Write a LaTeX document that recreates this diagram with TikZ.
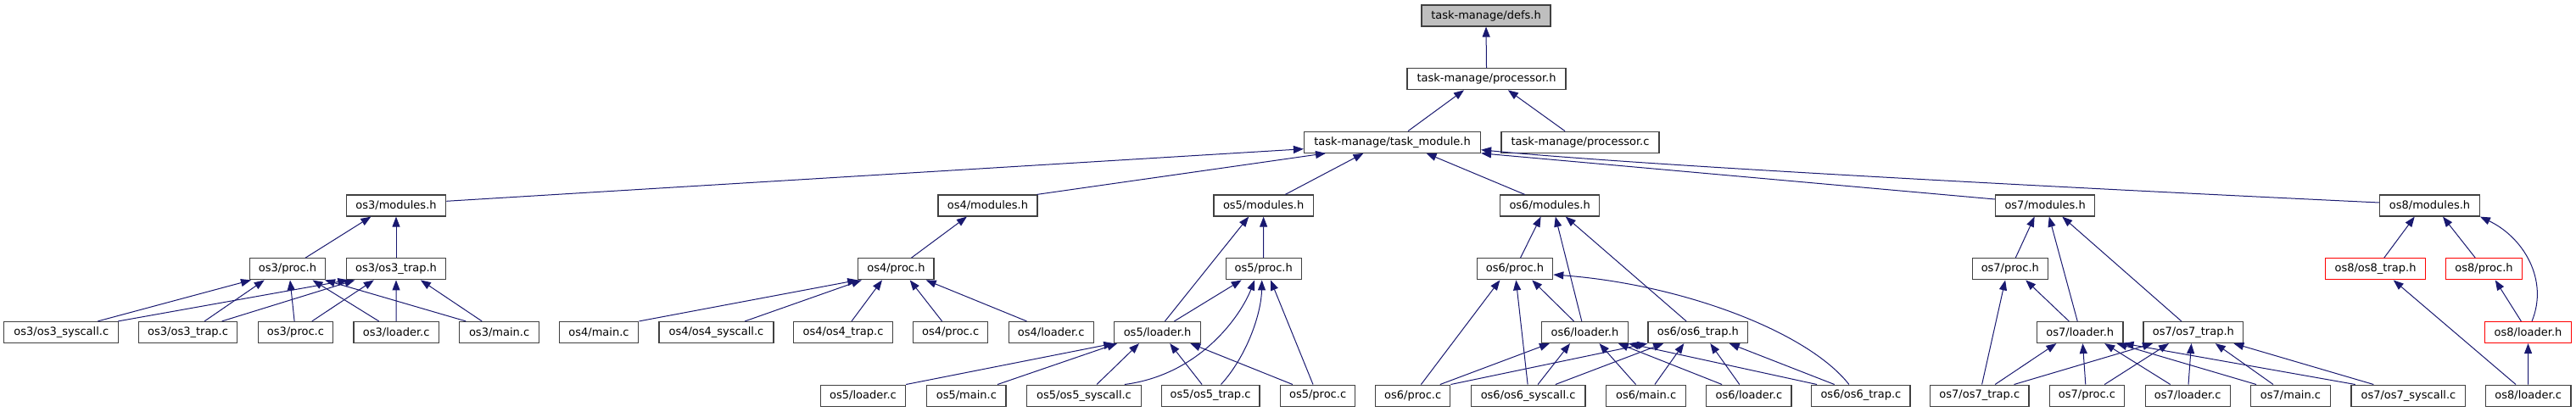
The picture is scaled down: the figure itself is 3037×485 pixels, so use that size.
\documentclass[tikz,border=0pt]{standalone}
\usepackage{fontspec}
\newfontfamily\dejavu{DejaVu Sans}
\usetikzlibrary{arrows.meta}
\definecolor{edgeblue}{HTML}{191970}
\definecolor{boxgray}{HTML}{404040}
\definecolor{rootfill}{HTML}{BFBFBF}
\definecolor{truncred}{HTML}{FF0000}
\newcommand\depedge[4]{\draw[inc] ([xshift=#2pt]#1.south) -- ([xshift=#4pt]#3.north);}
\begin{document}
\begin{tikzpicture}[x=1pt,y=-1pt,
  box/.style={draw=boxgray, line width=1.2pt, fill=white, inner sep=0pt, minimum height=25pt, font={\dejavu\fontsize{13}{15}\selectfont}, text=black},
  trunc/.style={box, draw=truncred},
  root/.style={box, fill=rootfill},
  inc/.style={draw=edgeblue, line width=1pt, {Triangle[length=12pt,width=9pt]}-}]
\useasboundingbox (0,0) rectangle (3037,485);
% row 0-2
\node[root, minimum width=152pt] (defs) at (1752,18.5) {task-manage/defs.h};
\node[box, minimum width=187pt] (proch) at (1752.5,93.2) {task-manage/processor.h};
\node[box, minimum width=208pt] (tm) at (1641.5,167.7) {task-manage/task\_module.h};
\node[box, minimum width=186pt] (pc) at (1863,167.7) {task-manage/processor.c};
% row 3
\node[box, minimum width=117.5pt] (m3) at (467,242.5) {os3/modules.h};
\node[box, minimum width=117pt] (m4) at (1164.4,242.5) {os4/modules.h};
\node[box, minimum width=117.4pt] (m5) at (1489.6,242.5) {os5/modules.h};
\node[box, minimum width=117.4pt] (m6) at (1827.1,242.5) {os6/modules.h};
\node[box, minimum width=117.4pt] (m7) at (2411.1,242.5) {os7/modules.h};
\node[box, minimum width=117.6pt] (m8) at (2864.5,242.5) {os8/modules.h};
% row 4
\node[box, minimum width=89pt] (p3) at (339,317.3) {os3/proc.h};
\node[box, minimum width=117.5pt] (t3) at (467,317.3) {os3/os3\_trap.h};
\node[box, minimum width=89.2pt] (p4) at (1056.4,317.3) {os4/proc.h};
\node[box, minimum width=89pt] (p5) at (1489.7,317.3) {os5/proc.h};
\node[box, minimum width=89.6pt] (p6) at (1785.9,317.3) {os6/proc.h};
\node[box, minimum width=89.2pt] (p7) at (2369.8,317.3) {os7/proc.h};
\node[trunc, minimum width=117.6pt] (t8) at (2800.5,317.3) {os8/os8\_trap.h};
\node[trunc, minimum width=89.6pt] (p8) at (2928.5,317.3) {os8/proc.h};
% row 5
\node[box, minimum width=135pt] (s3) at (72.3,392) {os3/os3\_syscall.c};
\node[box, minimum width=116pt] (tc3) at (221.6,392) {os3/os3\_trap.c};
\node[box, minimum width=88pt] (pc3) at (348.4,392) {os3/proc.c};
\node[box, minimum width=100.3pt] (lc3) at (467.2,392) {os3/loader.c};
\node[box, minimum width=93.7pt] (mc3) at (588.6,392) {os3/main.c};
\node[box, minimum width=93.7pt] (mc4) at (706,392) {os4/main.c};
\node[box, minimum width=135pt] (s4) at (844.4,392) {os4/os4\_syscall.c};
\node[box, minimum width=116.7pt] (tc4) at (994,392) {os4/os4\_trap.c};
\node[box, minimum width=88.2pt] (pc4) at (1120.6,392) {os4/proc.c};
\node[box, minimum width=100.2pt] (lc4) at (1239.2,392) {os4/loader.c};
\node[box, minimum width=101.6pt] (l5) at (1364.6,392) {os5/loader.h};
\node[box, minimum width=101.6pt] (l6) at (1868.4,392) {os6/loader.h};
\node[box, minimum width=117.7pt] (t6) at (2001.9,392) {os6/os6\_trap.h};
\node[box, minimum width=101.2pt] (l7) at (2452.3,392) {os7/loader.h};
\node[box, minimum width=117.7pt] (t7) at (2585.9,392) {os7/os7\_trap.h};
\node[trunc, minimum width=101.6pt] (l8) at (2980.5,392) {os8/loader.h};
% row 6
\node[box, minimum width=100.2pt] (lc5) at (1017.5,466.6) {os5/loader.c};
\node[box, minimum width=93.3pt] (mc5) at (1139.4,466.6) {os5/main.c};
\node[box, minimum width=134.3pt] (s5) at (1278,466.6) {os5/os5\_syscall.c};
\node[box, minimum width=115.8pt] (tc5) at (1427.1,466.6) {os5/os5\_trap.c};
\node[box, minimum width=87.8pt] (pc5) at (1553.6,466.6) {os5/proc.c};
\node[box, minimum width=88.2pt] (pc6) at (1665.7,466.6) {os6/proc.c};
\node[box, minimum width=134.6pt] (s6) at (1801.6,466.6) {os6/os6\_syscall.c};
\node[box, minimum width=93.7pt] (mc6) at (1940.6,466.6) {os6/main.c};
\node[box, minimum width=100.2pt] (lc6) at (2061.9,466.6) {os6/loader.c};
\node[box, minimum width=116.1pt] (tc6) at (2193.9,466.6) {os6/os6\_trap.c};
\node[box, minimum width=116.4pt] (tc7) at (2333.8,466.6) {os7/os7\_trap.c};
\node[box, minimum width=87.8pt] (pc7) at (2460.4,466.6) {os7/proc.c};
\node[box, minimum width=100.2pt] (lc7) at (2579.2,466.6) {os7/loader.c};
\node[box, minimum width=93.6pt] (mc7) at (2700.5,466.6) {os7/main.c};
\node[box, minimum width=134.7pt] (s7) at (2839.4,466.6) {os7/os7\_syscall.c};
\node[box, minimum width=100.7pt] (lc8) at (2980.7,466.6) {os8/loader.c};
% top edges
\depedge{defs}{0}{proch}{0}
\depedge{proch}{-26.5}{tm}{18.5}
\depedge{proch}{25.4}{pc}{-18}
\draw[inc] ([yshift=-8pt]tm.west) -- ([yshift=5.2pt]m3.east);
\draw[inc] ([xshift=-78.5pt]tm.south) -- ([xshift=-1pt]m4.north east);
\depedge{tm}{-34}{m5}{25.7}
\depedge{tm}{40}{m6}{-29.5}
\draw[inc] (tm.south east) -- ([yshift=7.5pt]m7.west);
\draw[inc] ([yshift=-9pt]tm.east) .. controls (1900,192) and (2300,215) .. ([yshift=3.5pt]m8.west);
% os3
\depedge{m3}{-29.6}{p3}{21}
\depedge{m3}{0}{t3}{0}
\depedge{p3}{-43}{s3}{43}
\depedge{p3}{-27.3}{tc3}{19.5}
\depedge{p3}{3}{pc3}{-1.3}
\depedge{p3}{29.5}{lc3}{-20.5}
\depedge{p3}{44}{mc3}{-39.3}
\depedge{t3}{-56.7}{s3}{67}
\depedge{t3}{-48.6}{tc3}{40}
\depedge{t3}{-26.2}{pc3}{19.4}
\depedge{t3}{0}{lc3}{0}
\depedge{t3}{28.9}{mc3}{-20.4}
% os4
\depedge{m4}{-24.5}{p4}{18}
\draw[inc] (p4.south west) -- (mc4.north east);
\depedge{p4}{-40.5}{s4}{33.8}
\depedge{p4}{-16.4}{tc4}{10}
\depedge{p4}{16.3}{pc4}{-10}
\depedge{p4}{35.3}{lc4}{-28.7}
% os5
\depedge{m5}{0}{p5}{0}
\depedge{m5}{-17.4}{l5}{8.8}
\depedge{p5}{-26}{l5}{19.8}
\draw[inc] (l5.south west) -- (lc5.north east);
\depedge{l5}{-47.4}{mc5}{36.6}
\depedge{l5}{-21.6}{s5}{15}
\depedge{l5}{14.6}{tc5}{-10}
\depedge{l5}{38.7}{pc5}{-29.7}
\draw[inc] ([xshift=-10.6pt]p5.south) .. controls (1463,372) and (1415,442) .. ([xshift=47.8pt]s5.north);
\draw[inc] ([xshift=-2pt]p5.south) .. controls (1487,370) and (1470,420) .. ([xshift=12.4pt]tc5.north);
\depedge{p5}{8.3}{pc5}{-5.6}
% os6
\depedge{m6}{-10.5}{p6}{6.6}
\depedge{m6}{6.7}{l6}{-3.6}
\depedge{m6}{18.7}{t6}{-13.8}
\depedge{p6}{20.3}{l6}{-12.9}
\depedge{p6}{-17.5}{pc6}{9.7}
\depedge{p6}{1.4}{s6}{-0.5}
\draw[inc] ([yshift=-6.7pt]p6.east) .. controls (1980,335) and (2130,390) .. ([xshift=-14pt]tc6.north);
\depedge{l6}{-41.5}{pc6}{32.1}
\depedge{l6}{-17.4}{s6}{11.5}
\depedge{l6}{17.1}{mc6}{-12.1}
\depedge{l6}{39.4}{lc6}{-31.8}
\draw[inc] (l6.south east) -- ([xshift=-51.9pt]tc6.north);
\draw[inc] (t6.south west) -- (pc6.north east);
\depedge{t6}{-40.7}{s6}{32.2}
\depedge{t6}{-16.6}{mc6}{10.3}
\depedge{t6}{14.4}{lc6}{-11.1}
\depedge{t6}{36.8}{tc6}{-31.2}
% os7
\depedge{m7}{-12.5}{p7}{6.4}
\depedge{m7}{4.7}{l7}{-3.1}
\depedge{m7}{20.2}{t7}{-14.1}
\depedge{p7}{18.4}{l7}{-13.1}
\depedge{p7}{-5.7}{tc7}{2.8}
\depedge{l7}{-27.9}{tc7}{18.3}
\depedge{l7}{3.1}{pc7}{-1.6}
\depedge{l7}{28.9}{lc7}{-20.5}
\draw[inc] ([xshift=-8pt]l7.south east) -- ([xshift=-40.5pt]mc7.north);
\draw[inc] (l7.south east) -- ([xshift=-62.7pt]s7.north);
\depedge{t7}{-47.9}{tc7}{40.7}
\depedge{t7}{-28.9}{pc7}{20.8}
\depedge{t7}{-2.4}{lc7}{0.8}
\depedge{t7}{25.8}{mc7}{-20.5}
\depedge{t7}{47.4}{s7}{-41.1}
% os8
\depedge{m8}{-17.8}{t8}{10.2}
\depedge{m8}{15.5}{p8}{-10.2}
\draw[inc] (m8.south east) .. controls (2975,280) and (3005,330) .. ([xshift=4.5pt]l8.north);
\depedge{p8}{13.2}{l8}{-8.2}
\depedge{t8}{21.2}{lc8}{-14.7}
\depedge{l8}{0}{lc8}{0}
\end{tikzpicture}
\end{document}
